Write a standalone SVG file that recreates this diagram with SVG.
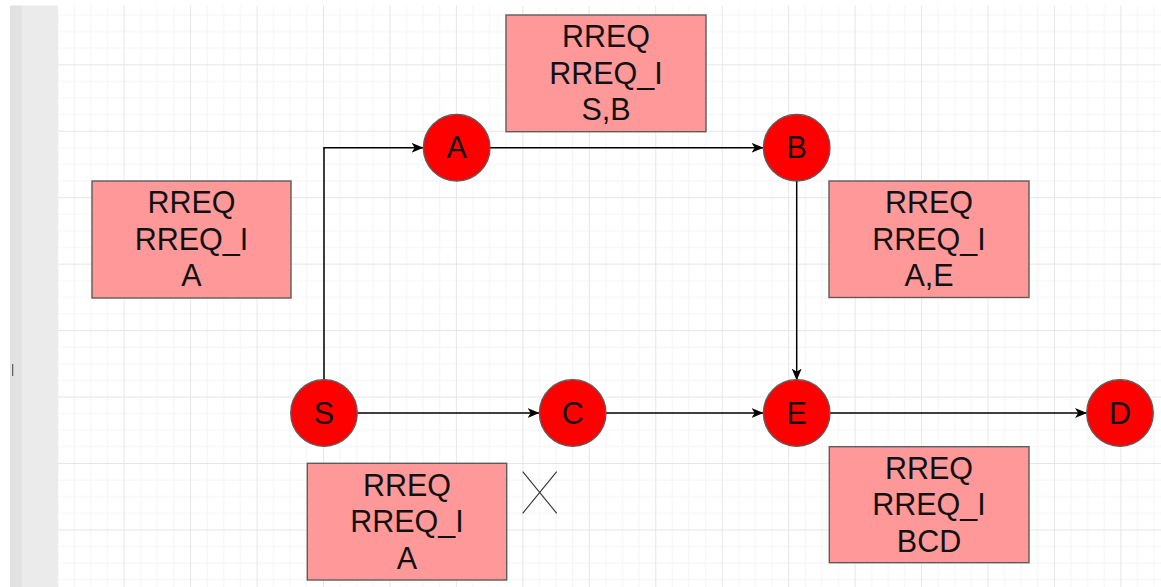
<svg xmlns="http://www.w3.org/2000/svg" width="1161" height="587" viewBox="0 0 1161 587">
  <style>
    .node circle { fill: #ff0000; stroke: #5c5c5c; stroke-width: 1.3; }
    .box rect { fill: #ff9999; stroke: #5c5c5c; stroke-width: 1.4; }
    text { font-family: "Liberation Sans", Arial, Helvetica, sans-serif; font-size: 30.5px; fill: #111; text-anchor: middle; }
    .edge { fill: none; stroke: #000; stroke-width: 1.5; marker-end: url(#arrow); }
    .cross { stroke: #333; stroke-width: 1.1; fill: none; }
  </style>
  <defs>
    <pattern id="grid" patternUnits="userSpaceOnUse" x="57.2" y="-2.15" width="66.45" height="66.45">
      <rect x="16.6" y="0" width="1" height="66.45" fill="#f4f4f4"/>
      <rect x="33.2" y="0" width="1" height="66.45" fill="#f4f4f4"/>
      <rect x="49.8" y="0" width="1" height="66.45" fill="#f4f4f4"/>
      <rect x="0" y="16.6" width="66.45" height="1" fill="#f4f4f4"/>
      <rect x="0" y="33.2" width="66.45" height="1" fill="#f4f4f4"/>
      <rect x="0" y="49.8" width="66.45" height="1" fill="#f4f4f4"/>
      <rect x="0" y="0" width="1" height="66.45" fill="#e6e6e6"/>
      <rect x="0" y="0" width="66.45" height="1" fill="#e6e6e6"/>
    </pattern>
    <marker id="arrow" viewBox="0 0 12 12" refX="11.5" refY="6" markerWidth="12" markerHeight="12" markerUnits="userSpaceOnUse" orient="auto">
      <path d="M0,1 L12,6 L0,11 L3.2,6 Z" fill="#000"/>
    </marker>
  </defs>

  <g id="background">
    <rect x="0" y="0" width="1161" height="587" fill="#ffffff"/>
    <rect x="58" y="5.5" width="1103" height="582" fill="url(#grid)"/>
    <rect x="10" y="5.5" width="12" height="582" fill="#e2e2e2"/>
    <rect x="22" y="5.5" width="36" height="582" fill="#ebebeb"/>
    <rect x="12" y="364" width="1.3" height="12" fill="#666"/>
  </g>

  <g id="connectors">
    <path class="edge" d="M324,380 L324,147.7 L423,147.7"/>
    <path class="edge" d="M490,147.7 L763,147.7"/>
    <path class="edge" d="M796.7,181 L796.7,380"/>
    <path class="edge" d="M357.3,413 L539,413"/>
    <path class="edge" d="M606,413 L763,413"/>
    <path class="edge" d="M830,413 L1086.5,413"/>
  </g>

  <g id="node-A" class="node">
    <circle cx="456.7" cy="147.7" r="33.3"/>
    <text x="456.7" y="158.3">A</text>
  </g>
  <g id="node-B" class="node">
    <circle cx="796.7" cy="147.7" r="33.3"/>
    <text x="796.7" y="158.3">B</text>
  </g>
  <g id="node-S" class="node">
    <circle cx="324" cy="413" r="33.3"/>
    <text x="324" y="423.6">S</text>
  </g>
  <g id="node-C" class="node">
    <circle cx="572.7" cy="413" r="33.3"/>
    <text x="572.7" y="423.6">C</text>
  </g>
  <g id="node-E" class="node">
    <circle cx="796.7" cy="413" r="33.3"/>
    <text x="796.7" y="423.6">E</text>
  </g>
  <g id="node-D" class="node">
    <circle cx="1120" cy="413" r="33.3"/>
    <text x="1120" y="423.6">D</text>
  </g>

  <g id="box-left" class="box">
    <rect x="92" y="181" width="199" height="117"/>
    <text x="191.5" y="213.2">RREQ</text>
    <text x="191.5" y="249.7">RREQ_I</text>
    <text x="191.5" y="286.2">A</text>
  </g>
  <g id="box-top" class="box">
    <rect x="506" y="15" width="200" height="116.7"/>
    <text x="606" y="47.4">RREQ</text>
    <text x="606" y="83.9">RREQ_I</text>
    <text x="606" y="120.4">S,B</text>
  </g>
  <g id="box-right" class="box">
    <rect x="829" y="181" width="200" height="116.5"/>
    <text x="929" y="213.2">RREQ</text>
    <text x="929" y="249.7">RREQ_I</text>
    <text x="929" y="286.2">A,E</text>
  </g>
  <g id="box-bottom-left" class="box">
    <rect x="307.3" y="463.3" width="199.4" height="116.7"/>
    <text x="407" y="495.6">RREQ</text>
    <text x="407" y="532.1">RREQ_I</text>
    <text x="407" y="568.6">A</text>
  </g>
  <g id="box-bottom-right" class="box">
    <rect x="829.3" y="446.7" width="199.7" height="116"/>
    <text x="929" y="478.7">RREQ</text>
    <text x="929" y="515.2">RREQ_I</text>
    <text x="929" y="551.7">BCD</text>
  </g>

  <g id="cross-mark">
    <path class="cross" d="M522.7,471.7 L556.7,513.3 M522.7,513.3 L556.7,471.7"/>
  </g>
</svg>
